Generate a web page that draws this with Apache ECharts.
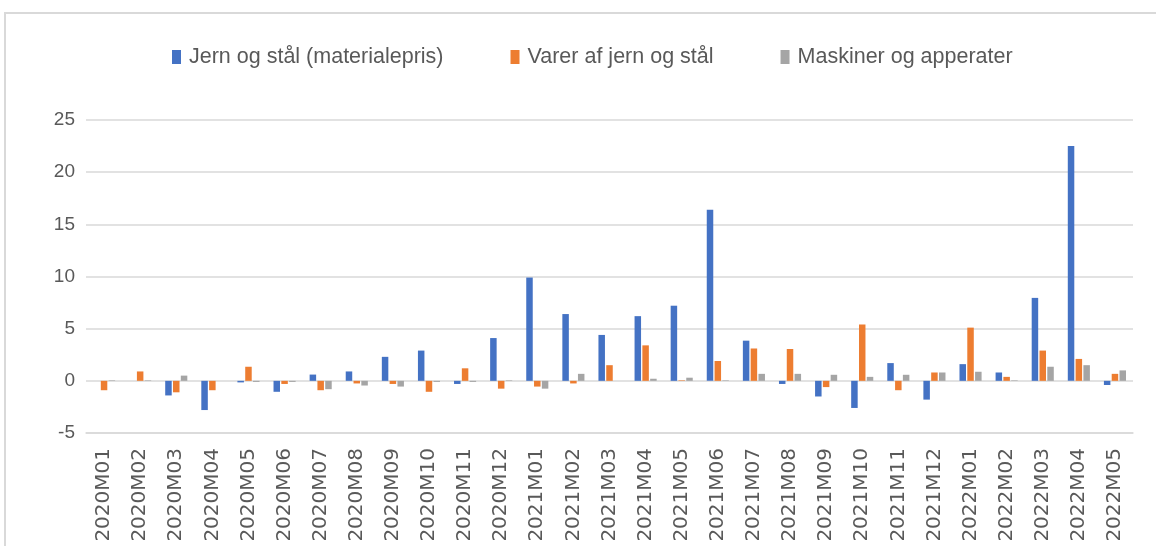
<!DOCTYPE html>
<html>
<head>
<meta charset="utf-8">
<script src="https://cdn.jsdelivr.net/npm/echarts@6/dist/echarts.min.js"></script>
<style>
  html, body { margin: 0; padding: 0; background: #fff; overflow: hidden; }
  .frame { position: absolute; left: 4px; top: 12px; width: 1200px; height: 600px; border: 2px solid #d9d9d9; box-sizing: border-box; }
  #myChart { position: absolute; left: 0; top: 0; width: 1156px; height: 546px; }
</style>
</head>
<body>
<div class="frame"></div>
<div id="myChart"></div>
<script>
const categories = ['2020M01', '2020M02', '2020M03', '2020M04', '2020M05', '2020M06', '2020M07', '2020M08', '2020M09', '2020M10', '2020M11', '2020M12',
  '2021M01', '2021M02', '2021M03', '2021M04', '2021M05', '2021M06', '2021M07', '2021M08', '2021M09', '2021M10', '2021M11', '2021M12',
  '2022M01', '2022M02', '2022M03', '2022M04', '2022M05']
const jernOgStaal = [0, 0, -1.4, -2.8, -0.15, -1.05, 0.6, 0.9, 2.3, 2.9, -0.3, 4.1,
  9.9, 6.4, 4.4, 6.2, 7.2, 16.4, 3.85, -0.3, -1.5, -2.6, 1.7, -1.8,
  1.6, 0.8, 7.95, 22.5, -0.4]
const varerAfJern = [-0.9, 0.9, -1.1, -0.9, 1.35, -0.3, -0.9, -0.25, -0.3, -1.05, 1.2, -0.75,
  -0.55, -0.25, 1.5, 3.4, 0.05, 1.9, 3.1, 3.05, -0.6, 5.4, -0.9, 0.8,
  5.1, 0.38, 2.9, 2.1, 0.67]
const maskiner = [0.05, 0.05, 0.5, 0, -0.1, -0.1, -0.8, -0.45, -0.55, -0.1, -0.1, 0.05,
  -0.75, 0.67, 0, 0.2, 0.3, 0.05, 0.67, 0.67, 0.58, 0.38, 0.58, 0.8,
  0.87, 0.05, 1.35, 1.5, 1.0]
const seriesNames = ['Jern og stål (materialepris)', 'Varer af jern og stål', 'Maskiner og apperater']
const colors = ['#4472C4', '#ED7D31', '#A5A5A5']

const myChart = echarts.init(document.getElementById('myChart'))
myChart.setOption({
  animation: false,
  color: colors,
  legend: {
    top: 41,
    left: 167,
    icon: 'rect',
    itemWidth: 9,
    itemHeight: 14,
    itemGap: 67,
    textStyle: {
      fontFamily: 'Liberation Sans',
      fontSize: 21.5,
      color: '#595959',
      padding: [0, 0, 0, 3]
    },
    data: seriesNames
  },
  grid: {
    left: 86,
    right: 23,
    top: 120,
    bottom: 113
  },
  xAxis: {
    type: 'category',
    data: categories,
    axisLine: { onZero: false, lineStyle: { color: '#d9d9d9', width: 1.5 } },
    axisTick: { show: false },
    axisLabel: {
      rotate: 90,
      margin: 15,
      interval: 0,
      fontFamily: 'DejaVu Sans',
      fontSize: 20,
      color: '#595959'
    }
  },
  yAxis: {
    type: 'value',
    min: -5,
    max: 25,
    interval: 5,
    axisLine: { show: false },
    axisTick: { show: false },
    splitLine: { lineStyle: { color: '#d9d9d9', width: 1.5 } },
    axisLabel: {
      margin: 11,
      fontFamily: 'Liberation Sans',
      fontSize: 19,
      color: '#595959'
    }
  },
  series: [
    { name: seriesNames[0], type: 'bar', barWidth: 6.5, barGap: '20%', data: jernOgStaal },
    { name: seriesNames[1], type: 'bar', barWidth: 6.5, barGap: '20%', data: varerAfJern },
    { name: seriesNames[2], type: 'bar', barWidth: 6.5, barGap: '20%', data: maskiner }
  ]
})
</script>
</body>
</html>
